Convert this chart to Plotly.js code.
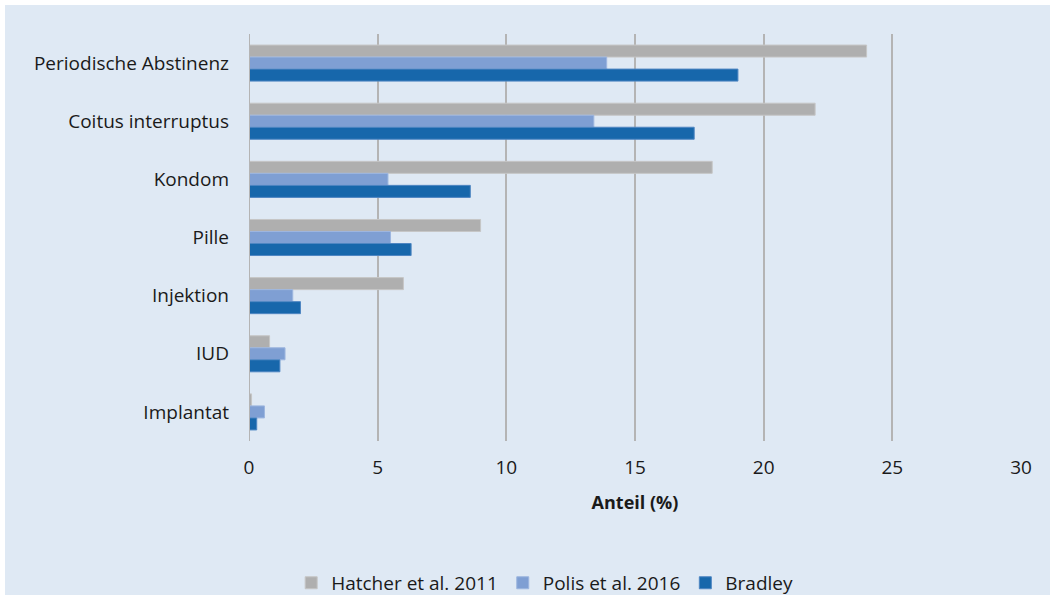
<!DOCTYPE html>
<html>
<head>
<meta charset="utf-8">
<script src="https://cdn.plot.ly/plotly-3.0.1.min.js"></script>
<style>
  html, body { margin: 0; padding: 0; background: #ffffff; }
  #chart { position: absolute; left: 5px; top: 5px; width: 1045px; height: 590px; }
</style>
</head>
<body>
<div id="chart"></div>
<script>
const categories = ["Periodische Abstinenz", "Coitus interruptus", "Kondom", "Pille", "Injektion", "IUD", "Implantat"];
const seriesNames = ["Hatcher et al. 2011", "Polis et al. 2016", "Bradley"];
const hatcher = [24, 22, 18, 9, 6, 0.8, 0.1];
const polis = [13.9, 13.4, 5.4, 5.5, 1.7, 1.4, 0.6];
const bradley = [19, 17.3, 8.6, 6.3, 2.0, 1.2, 0.3];
const xTicks = [0, 5, 10, 15, 20, 25, 30];

const fills = ["#afafaf", "#7f9fd3", "#1767ab"];
const edges = ["#c6c6c6", "#9db6df", "#4f86c2"];
const values = [hatcher, polis, bradley];

const traces = values.map((v, i) => ({
  type: "bar",
  orientation: "h",
  name: seriesNames[i],
  y: categories,
  x: v,
  marker: { color: fills[i], line: { color: edges[i], width: 1 } },
  hoverinfo: "x+y+name"
}));

const font = "'Open Sans', 'Noto Sans', sans-serif";

const layout = {
  width: 1045,
  height: 590,
  paper_bgcolor: "#dfe9f4",
  plot_bgcolor: "#dfe9f4",
  margin: { l: 244, r: 29, t: 29, b: 154, autoexpand: false },
  barmode: "group",
  bargap: 0.38,
  bargroupgap: 0,
  font: { family: font, size: 19, color: "#1a1a1a" },
  xaxis: {
    range: [0, 30],
    tickvals: xTicks,
    ticktext: xTicks.map(String),
    showgrid: true,
    gridcolor: "#b4b4b4",
    gridwidth: 2,
    zeroline: false,
    showline: false,
    ticks: "",
    ticklabelstandoff: 13,
    tickfont: { family: font, size: 19, color: "#1a1a1a" },
    title: { text: "<b>Anteil (%)</b>", font: { family: font, size: 18, color: "#1a1a1a" }, standoff: 17 },
    automargin: false,
    fixedrange: true
  },
  yaxis: {
    type: "category",
    categoryorder: "array",
    categoryarray: categories,
    autorange: "reversed",
    showgrid: false,
    zeroline: false,
    showline: false,
    ticks: "",
    ticklabelstandoff: 19,
    tickfont: { family: font, size: 19, color: "#1a1a1a" },
    automargin: false,
    fixedrange: true
  },
  shapes: [{
    type: "line", xref: "x", yref: "paper",
    x0: 0, x1: 0, y0: 0, y1: 1,
    line: { color: "#b4b4b4", width: 2 },
    layer: "above"
  }],
  legend: {
    orientation: "h",
    x: 0.383, xanchor: "center",
    y: -0.302, yanchor: "top",
    font: { family: font, size: 19, color: "#1a1a1a" },
    bgcolor: "rgba(0,0,0,0)",
    traceorder: "normal",
    itemclick: false,
    itemdoubleclick: false
  },
  showlegend: true
};

Plotly.newPlot("chart", traces, layout, { displayModeBar: false, staticPlot: true });
</script>
</body>
</html>
